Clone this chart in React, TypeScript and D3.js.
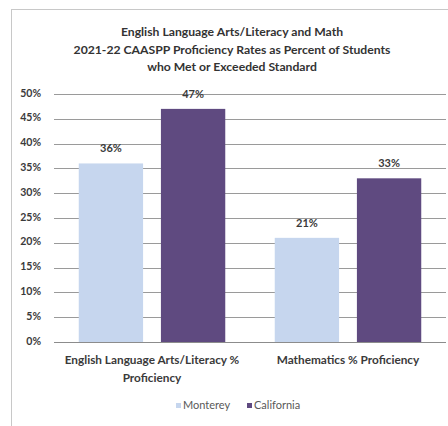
import React from "react";
import * as d3 from "d3";

const categories = ["English Language Arts/Literacy % Proficiency", "Mathematics % Proficiency"];
const categoryLines = [["English Language Arts/Literacy %", "Proficiency"], ["Mathematics % Proficiency"]];
const seriesNames = ["Monterey", "California"];
const montereyValues = [36, 21];
const californiaValues = [47, 33];
const yTicks = [0, 5, 10, 15, 20, 25, 30, 35, 40, 45, 50];
const titleLines = [
  "English Language Arts/Literacy and Math",
  "2021-22 CAASPP Proficiency Rates as Percent of Students",
  "who Met or Exceeded Standard",
];
const colors = ["#c6d6ee", "#5f4a80"];

const W = 448;
const H = 426;
const FONT = "Lato, 'Open Sans', sans-serif";

export default function App() {
  const plotLeft = 54;
  const plotRight = 446;
  const y = d3.scaleLinear().domain([0, 50]).range([342, 94]);
  const x0 = d3
    .scaleBand<string>()
    .domain(categories)
    .range([plotLeft, plotRight])
    .paddingInner(0.2525)
    .paddingOuter(0.1263);
  const x1 = d3
    .scaleBand<string>()
    .domain(seriesNames)
    .range([0, x0.bandwidth()])
    .paddingInner(0.217)
    .paddingOuter(0);
  const seriesValues = [montereyValues, californiaValues];

  return (
    <svg
      width={W}
      height={H}
      style={{ position: "absolute", left: 0, top: 0, background: "#fff" }}
      fontFamily={FONT}
    >
      <rect x={0} y={0} width={W} height={H} fill="#fff" />
      {/* frame */}
      <line x1={11} y1={9.5} x2={W} y2={9.5} stroke="#c8c8c8" strokeWidth={1} />
      <line x1={11.5} y1={9} x2={11.5} y2={H} stroke="#c8c8c8" strokeWidth={1} />
      {/* title */}
      {titleLines.map((t, i) => (
        <text
          key={i}
          x={232}
          y={33 + i * 17.5}
          textAnchor="middle"
          dominantBaseline="middle"
          fontSize={12.2}
          fontWeight={700}
          fill="#333"
        >
          {t}
        </text>
      ))}
      {/* gridlines & ticks */}
      {yTicks.map((t) => (
        <g key={t}>
          <line
            x1={plotLeft}
            x2={plotRight}
            y1={Math.round(y(t)) + 0.5}
            y2={Math.round(y(t)) + 0.5}
            stroke={t === 0 ? "#8c8c8c" : "#9a9a9a"}
            strokeWidth={1.2}
          />
          <text
            x={41}
            y={y(t)}
            textAnchor="end"
            dominantBaseline="middle"
            fontSize={10.5}
            fontWeight={700}
            fill="#3a3a3a"
          >
            {t}%
          </text>
        </g>
      ))}
      {/* bars */}
      {categories.map((c, ci) => (
        <g key={c} transform={`translate(${x0(c)},0)`}>
          {seriesNames.map((s, si) => {
            const v = seriesValues[si][ci];
            const bx = x1(s) as number;
            return (
              <g key={s}>
                <rect
                  x={bx}
                  y={y(v)}
                  width={x1.bandwidth()}
                  height={y(0) - y(v)}
                  fill={colors[si]}
                />
                <text
                  x={bx + x1.bandwidth() / 2}
                  y={y(v) - 14}
                  textAnchor="middle"
                  dominantBaseline="middle"
                  fontSize={11}
                  fontWeight={700}
                  fill="#3a3a3a"
                >
                  {v}%
                </text>
              </g>
            );
          })}
        </g>
      ))}
      {/* category labels */}
      {categories.map((c, ci) => (
        <g key={c}>
          {categoryLines[ci].map((l, li) => (
            <text
              key={li}
              x={(x0(c) as number) + x0.bandwidth() / 2}
              y={361 + li * 18}
              textAnchor="middle"
              dominantBaseline="middle"
              fontSize={11.8}
              fontWeight={700}
              fill="#3a3a3a"
            >
              {l}
            </text>
          ))}
        </g>
      ))}
      {/* legend */}
      {seriesNames.map((s, si) => {
        const lx = si === 0 ? 176 : 247;
        return (
          <g key={s}>
            <rect x={lx} y={403} width={5} height={5} fill={colors[si]} />
            <text
              x={lx + 7}
              y={406}
              dominantBaseline="middle"
              fontSize={11}
              fill="#595959"
            >
              {s}
            </text>
          </g>
        );
      })}
    </svg>
  );
}
